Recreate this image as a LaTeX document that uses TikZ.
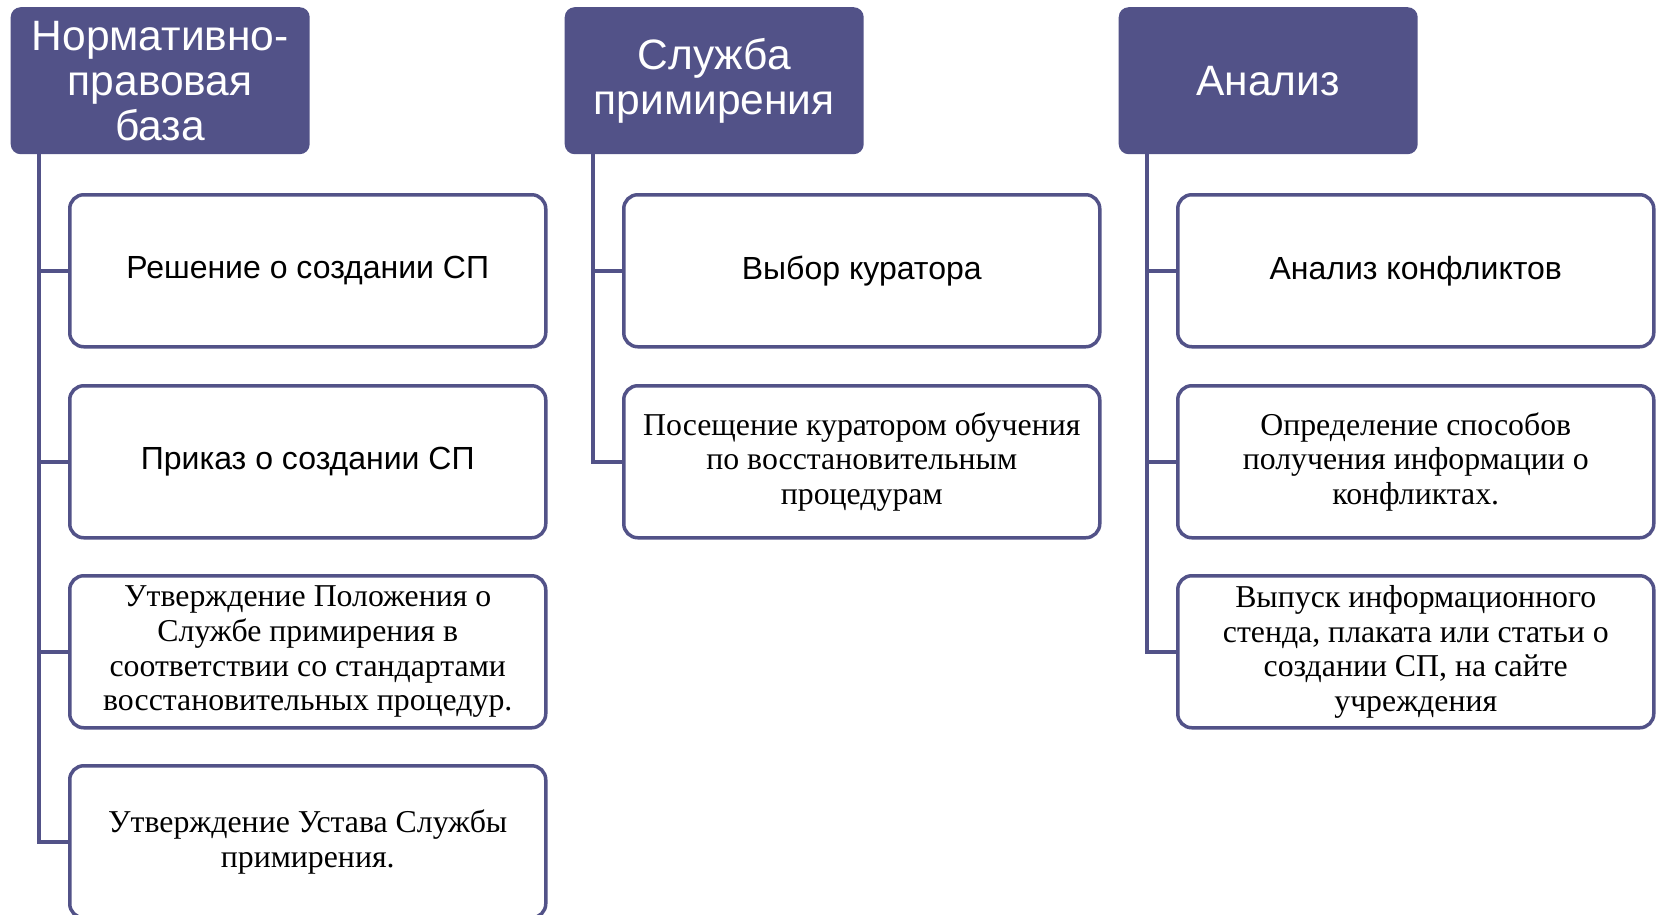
\documentclass[tikz,border=0pt]{standalone}
\usepackage{fontspec}
\setmainfont{Liberation Serif}
\newfontfamily\arialf{Liberation Sans}
\definecolor{hdr}{RGB}{82,82,136}
\definecolor{edgec}{RGB}{82,82,136}
\begin{document}
\begin{tikzpicture}[x=1pt,y=-1pt,
 hdrbox/.style={draw=none, fill=hdr, rounded corners=10pt, minimum width=299pt, minimum height=147pt, text=white, align=center, font=\arialf\fontsize{42.5}{45}\selectfont, inner sep=0pt, anchor=north west},
 itembox/.style={draw=edgec, line width=3.5pt, fill=white, rounded corners=14pt, minimum width=476pt, minimum height=152pt, align=center, inner sep=0pt, anchor=north west},
 sanst/.style={font=\arialf\fontsize{32}{37}\selectfont},
 serift/.style={font=\fontsize{31.8}{34.6}\selectfont},
 conn/.style={draw=edgec, line width=4pt, line join=miter}]
\useasboundingbox (0,0) rectangle (1661,914);
\clip (0,0) rectangle (1661,914);
\fill[white] (0,0) rectangle (1661,914);

% headers
\node[hdrbox] (h1) at (10.5,7) {Нормативно-\\правовая\\база};
\node[hdrbox] (h2) at (564.5,7) {Служба\\примирения};
\node[hdrbox] (h3) at (1118.5,7) {Анализ};

% column 1
\node[itembox, sanst] (c1a) at (68,193) {Решение о создании СП};
\node[itembox, sanst] (c1b) at (68,384) {Приказ о создании СП};
\node[itembox, serift] (c1c) at (68,574) {Утверждение Положения о\\Службе примирения в\\соответствии со стандартами\\восстановительных процедур.};
\node[itembox, serift] (c1d) at (68,764) {Утверждение Устава Службы\\примирения.};

% column 2
\node[itembox, sanst] (c2a) at (622,193) {Выбор куратора};
\node[itembox, serift] (c2b) at (622,384) {Посещение куратором обучения\\по восстановительным\\процедурам};

% column 3
\node[itembox, sanst] (c3a) at (1176,193) {Анализ конфликтов};
\node[itembox, serift] (c3b) at (1176,384) {Определение способов\\получения информации о\\конфликтах.};
\node[itembox, serift] (c3c) at (1176,574) {Выпуск информационного\\стенда, плаката или статьи о\\создании СП, на сайте\\учреждения};

% connectors
\foreach \c in {c1a,c1b,c1c,c1d}
  \draw[conn] ([xshift=28.5pt]h1.south west) |- (\c.west);
\foreach \c in {c2a,c2b}
  \draw[conn] ([xshift=28.5pt]h2.south west) |- (\c.west);
\foreach \c in {c3a,c3b,c3c}
  \draw[conn] ([xshift=28.5pt]h3.south west) |- (\c.west);
\end{tikzpicture}
\end{document}
